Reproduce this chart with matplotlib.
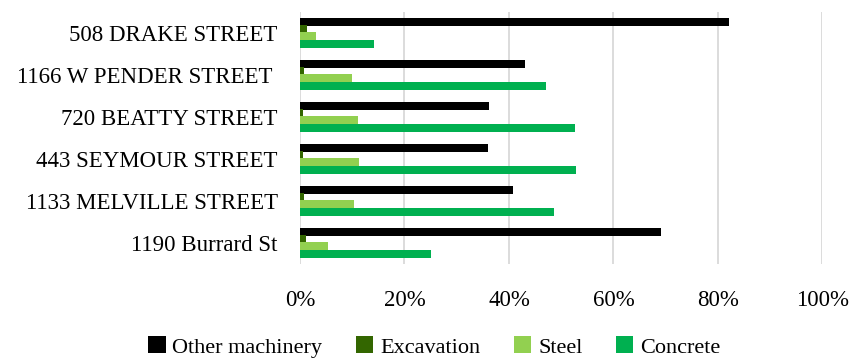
import matplotlib.pyplot as plt
import numpy as np

# share of emissions by source for each site
sites = [
    "508 DRAKE STREET",
    "1166 W PENDER STREET ",
    "720 BEATTY STREET",
    "443 SEYMOUR STREET",
    "1133 MELVILLE STREET",
    "1190 Burrard St",
]
other_machinery = [82.2, 43.0, 36.2, 36.0, 40.8, 69.2]
excavation = [1.3, 0.7, 0.6, 0.5, 0.7, 1.1]
steel = [3.1, 10.0, 11.1, 11.2, 10.3, 5.3]
concrete = [14.1, 47.0, 52.7, 52.8, 48.7, 25.0]

series_names = ["Other machinery", "Excavation", "Steel", "Concrete"]
series_values = [other_machinery, excavation, steel, concrete]
colors = ["#000000", "#336600", "#92D050", "#00B050"]

plt.rcParams["font.family"] = ["Liberation Serif", "DejaVu Serif"]

fig = plt.figure(figsize=(8.58, 3.6), dpi=100)
ax = fig.add_axes([0.3497, 0.267, 0.6087, 0.6997])

y = np.arange(len(sites))
step = 0.174
height = 0.207
for i, (name, vals) in enumerate(zip(series_names, series_values)):
    ax.barh(y + (i - 1.5) * step, vals, height=height, color=colors[i],
            label=name, zorder=3)

ax.set_ylim(len(sites) - 0.5, -0.5)
ax.set_xlim(0, 100)
ax.set_xticks(np.arange(0, 101, 20))
ax.set_xticklabels([f"{v}%" for v in range(0, 101, 20)])
ax.set_yticks(y)
ax.set_yticklabels(sites)
ax.tick_params(axis="both", length=0, labelsize=16.5, colors="#000000")
ax.tick_params(axis="y", pad=16)
ax.tick_params(axis="x", pad=19)
ax.grid(axis="x", color="#d9d9d9", linewidth=1.3, zorder=0)
for s in ax.spines.values():
    s.set_visible(False)

fig.legend(loc="center", bbox_to_anchor=(0.506, 0.036), ncol=4, frameon=False,
           prop={"family": "Liberation Serif", "size": 16},
           handlelength=0.8, handleheight=0.8, handletextpad=0.3,
           columnspacing=1.5)

fig.savefig("out.png", dpi=100)
